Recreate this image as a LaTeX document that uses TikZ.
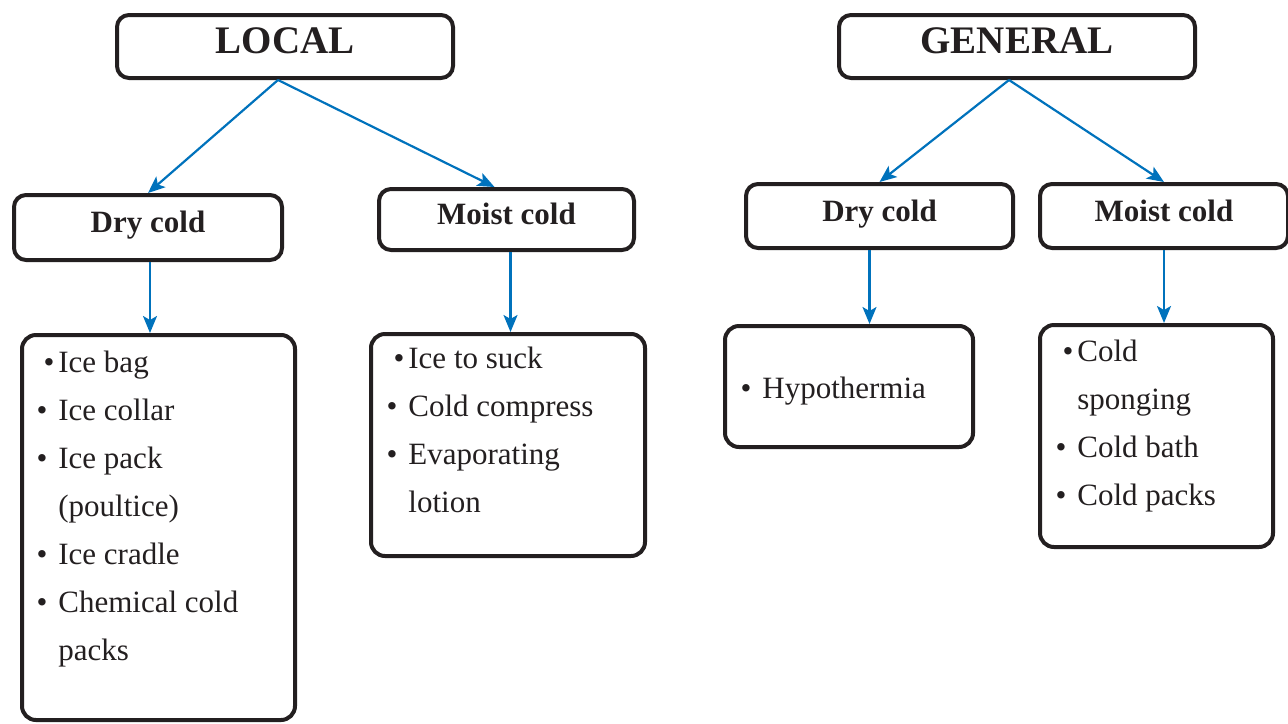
\documentclass[tikz,border=0pt]{standalone}
\usepackage{fontspec}
\setmainfont{Liberation Serif}
\usetikzlibrary{arrows.meta}
\definecolor{coldblue}{RGB}{0,114,188}
\definecolor{coldink}{RGB}{35,31,32}
\newcommand\bul{\strut\llap{\textbullet\hspace{5.5pt}}}
\newcommand\bulx{\strut\llap{\textbullet\hspace{2pt}}}

\begin{document}
\begin{tikzpicture}[x=0.5pt,y=-0.5pt,
            head/.style={rectangle,draw=coldink,line width=2pt,rounded corners=6pt,
                         inner sep=0pt,text=coldink,text height=13pt,text depth=6pt,
                         font=\bfseries\fontsize{19.5}{24}\selectfont},
            sub/.style={rectangle,draw=coldink,line width=2pt,rounded corners=6pt,
                        inner sep=0pt,text=coldink,text height=9.6pt,text depth=4.6pt,
                        font=\bfseries\fontsize{15.5}{24}\selectfont},
            listbox/.style={rectangle,draw=coldink,line width=2pt,rounded corners=7pt},
            items/.style={anchor=north west,align=left,inner sep=0pt,text=coldink,
                          font=\fontsize{15.5}{24}\selectfont},
            arr/.style={-{Stealth[length=8.5pt,width=7pt,inset=2pt]},coldblue,line width=1.1pt}]
            \useasboundingbox (0,0) rectangle (1288,723);
            % top level
            \node[head,minimum width=168pt,minimum height=31.5pt] (local)   at (285,46.5)  {LOCAL};
            \node[head,minimum width=178pt,minimum height=31.5pt] (general) at (1017,46.5) {GENERAL};
            % second level
            \node[sub,minimum width=134pt,minimum height=32.5pt]   (ldry)   at (148,227.5)  {Dry cold};
            \node[sub,minimum width=127.5pt,minimum height=30.5pt] (lmoist) at (506.5,219.5) {Moist cold};
            \node[sub,minimum width=133.5pt,minimum height=32pt]   (gdry)   at (879.5,216)  {Dry cold};
            \node[sub,minimum width=124pt,minimum height=32pt]     (gmoist) at (1164,216)   {Moist cold};
            % lists
            \node[listbox,minimum width=136.5pt,minimum height=192.5pt] (ldlist) at (158.5,527.5) {};
            \node[listbox,minimum width=137pt,minimum height=111pt]     (lmlist) at (508,445)     {};
            \node[listbox,minimum width=124pt,minimum height=60.5pt]    (gdlist) at (849,386.5)   {};
            \node[listbox,minimum width=116.5pt,minimum height=111pt]   (gmlist) at (1156.5,436)  {};
            \node[items] (ldtext) at (58,338.4)
                {\bulx Ice bag\\ \bul Ice collar\\ \bul Ice pack\\ \strut(poultice)\\
                 \bul Ice cradle\\ \bul Chemical cold\\ \strut packs};
            \node[items] (lmtext) at (408,334.4)
                {\bulx Ice to suck\\ \bul Cold compress\\ \bul Evaporating\\ \strut lotion};
            \node[items] (gdtext) at (762,364.4) {\bul Hypothermia};
            \node[items] (gmtext) at (1077,327.4)
                {\bulx Cold\\ \strut sponging\\ \bul Cold bath\\ \bul Cold packs};
            % connectors
            \draw[arr] ([xshift=-3.5pt]local.south) -- (ldry.north);
            \draw[arr] ([xshift=-3.5pt]local.south) -- ([xshift=-6pt]lmoist.north);
            \draw[arr] ([xshift=-4pt]general.south) -- (gdry.north);
            \draw[arr] ([xshift=-4pt]general.south) -- (gmoist.north);
            \draw[arr] ([xshift=1pt]ldry.south) -- ([xshift=1pt]ldry.south |- ldlist.north);
            \draw[arr] ([xshift=2pt]lmoist.south) -- ([xshift=2pt]lmoist.south |- lmlist.north);
            \draw[arr] ([xshift=-5pt]gdry.south) -- ([xshift=-5pt]gdry.south |- gdlist.north);
            \draw[arr] (gmoist.south) -- (gmoist.south |- gmlist.north);
        \end{tikzpicture}
\end{document}
